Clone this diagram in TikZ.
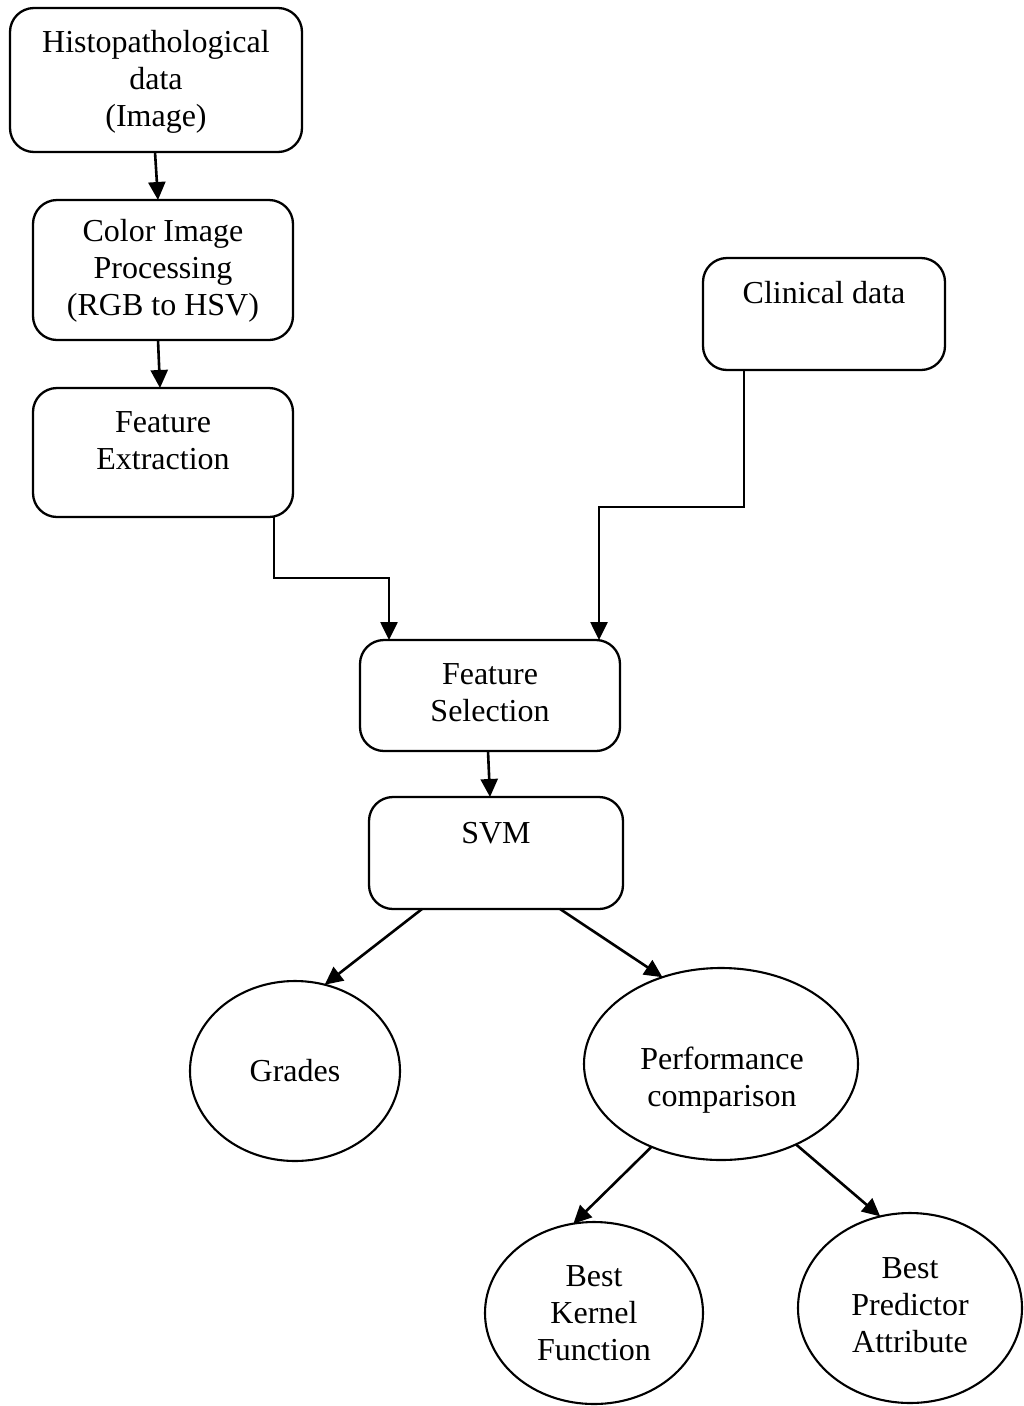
\documentclass[tikz,border=0pt]{standalone}
\usepackage{fontspec}
\setmainfont{Liberation Serif}
\usetikzlibrary{shapes.geometric,arrows.meta}

\begin{document}
\begin{tikzpicture}[x=1pt,y=-1pt,
  box/.style={draw, rectangle, rounded corners=24pt, line width=2.3pt,
              inner sep=0pt, outer sep=0pt},
  oval/.style={draw, ellipse, line width=2.1pt, inner sep=0pt, outer sep=0pt},
  txt/.style={align=center, inner sep=0pt,
              font=\fontsize{32}{36.8}\selectfont},
  arr/.style={line width=2.6pt, -{Triangle[length=18pt,width=17pt]}}
]
\useasboundingbox (0,0) rectangle (1024,1406);

% process boxes
\node[box, minimum width=292pt, minimum height=144pt] (hist) at (156,80) {};
\node[txt] (histT) at (156,82) {Histopathological\\data\\(Image)};

\node[box, minimum width=260pt, minimum height=140pt] (color) at (163,270) {};
\node[txt] (colorT) at (163,271) {Color Image\\Processing\\(RGB to HSV)};

\node[box, minimum width=260pt, minimum height=129pt] (fext) at (163,452.5) {};
\node[txt] (fextT) at (163,441) {Feature\\Extraction};

\node[box, minimum width=242pt, minimum height=112pt] (clin) at (824,314) {};
\node[txt] (clinT) at (824,293) {Clinical data};

\node[box, minimum width=260pt, minimum height=111pt] (fsel) at (490,695.5) {};
\node[txt] (fselT) at (490,692.5) {Feature\\Selection};

\node[box, minimum width=254pt, minimum height=112pt] (svm) at (496,853) {};
\node[txt] (svmT) at (496,833) {SVM};

% outcome ovals
\node[oval, minimum width=210pt, minimum height=180pt] (grad) at (295,1071) {};
\node[txt] (gradT) at (295,1071) {Grades};

\node[oval, minimum width=274pt, minimum height=192pt] (perf) at (721,1064) {};
\node[txt] (perfT) at (722,1080) {Performance\\comparison};

\node[oval, minimum width=218pt, minimum height=182pt] (kern) at (594,1313) {};
\node[txt] (kernT) at (594,1313) {Best\\Kernel\\Function};

\node[oval, minimum width=224pt, minimum height=190pt] (pred) at (910,1308) {};
\node[txt] (predT) at (910,1305) {Best\\Predictor\\Attribute};

% connectors
\draw[arr] ([xshift=-1pt]hist.south) -- ([xshift=-5pt]color.north);
\draw[arr] ([xshift=-5pt]color.south) -- ([xshift=-3pt]fext.north);
\draw[arr] ([xshift=-19pt]fext.south east) -- ++(0,61) -| ([xshift=29pt]fsel.north west);
\draw[arr] ([xshift=41pt]clin.south west) -- ++(0,137) -| ([xshift=-21pt]fsel.north east);
\draw[arr] ([xshift=-2pt]fsel.south) -- ([xshift=-6pt]svm.north);
\draw[arr] ([xshift=53pt]svm.south west) -- (grad.71);
\draw[arr] ([xshift=191pt]svm.south west) -- (perf.124);
\draw[arr] (perf.230) -- (kern.103);
\draw[arr] (perf.313) -- (pred.108);
\end{tikzpicture}
\end{document}
